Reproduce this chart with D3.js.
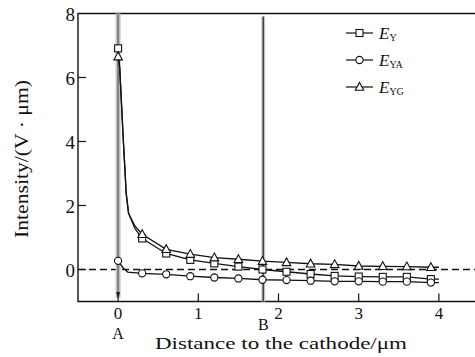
<!DOCTYPE html>
<html>
<head>
<meta charset="utf-8">
<script src="https://cdn.jsdelivr.net/npm/d3@7"></script>
<style>
  body { margin: 0; background: #fff; }
  svg { display: block; font-family: "Liberation Serif", "DejaVu Serif", serif; }
</style>
</head>
<body>
<div id="chart"></div>
<script>
// Data
const distance = [0, 0.3, 0.6, 0.9, 1.2, 1.5, 1.8, 2.1, 2.4, 2.7, 3.0, 3.3, 3.6, 3.9];
const eY  = [6.91, 0.97, 0.5, 0.3, 0.19, 0.09, 0.0, -0.07, -0.14, -0.2, -0.22, -0.23, -0.23, -0.3];
const eYA = [0.27, -0.12, -0.15, -0.21, -0.25, -0.28, -0.32, -0.33, -0.35, -0.37, -0.37, -0.38, -0.38, -0.41];
const eYG = [6.65, 1.1, 0.63, 0.48, 0.37, 0.32, 0.26, 0.22, 0.18, 0.16, 0.11, 0.1, 0.09, 0.07];

// unmarked points on the steep part of the curves, and the line ends
const steepX = [0.02, 0.04, 0.066, 0.09, 0.1, 0.13, 0.21];
const eYSteep  = [6.3, 5.3, 4.0, 2.9, 2.4, 1.76, 1.28];
const eYGSteep = [6.3, 5.3, 4.0, 2.9, 2.4, 1.76, 1.36];
const eYASteepX = [0.066, 0.12];
const eYASteep  = [0.04, -0.08];
const lineEndX = 4.0;
const lineEnd = { eY: -0.3, eYA: -0.41, eYG: 0.07 };

const xTicks = [0, 1, 2, 3, 4];
const yTicks = [0, 2, 4, 6, 8];
const pointA = 0, pointB = 1.81;

const width = 475, height = 357;
const x = d3.scaleLinear().domain([-0.5, 4.5]).range([78, 479]);
const y = d3.scaleLinear().domain([-1, 8]).range([301.5, 13.5]);

const svg = d3.select("#chart").append("svg")
  .attr("width", width)
  .attr("height", height);

// frame: top, left, bottom (right side runs off the picture)
svg.append("path")
  .attr("d", `M${width},${y(8)}H${x(-0.5)}V${y(-1)}H${width}`)
  .attr("stroke", "#111").attr("stroke-width", 1.4).attr("fill", "none");

// ticks point inward
svg.append("g").selectAll("line").data(yTicks.slice(0, 4)).join("line")
  .attr("x1", x(-0.5)).attr("x2", x(-0.5) + 8)
  .attr("y1", d => y(d)).attr("y2", d => y(d))
  .attr("stroke", "#111").attr("stroke-width", 1.2);
svg.append("g").selectAll("line").data(xTicks).join("line")
  .attr("x1", d => x(d)).attr("x2", d => x(d))
  .attr("y1", y(-1)).attr("y2", y(-1) - 8)
  .attr("stroke", "#111").attr("stroke-width", 1.2);

// tick labels
svg.append("g").selectAll("text").data(yTicks).join("text")
  .attr("x", 75).attr("y", d => y(d) + 7)
  .attr("text-anchor", "end").attr("font-size", 19).attr("fill", "#111")
  .text(d => d);
svg.append("g").selectAll("text").data(xTicks).join("text")
  .attr("x", d => x(d)).attr("y", 319)
  .attr("text-anchor", "middle").attr("font-size", 17).attr("fill", "#111")
  .text(d => d);

// zero reference line
svg.append("line")
  .attr("x1", x(-0.5)).attr("x2", width)
  .attr("y1", y(0)).attr("y2", y(0))
  .attr("stroke", "#111").attr("stroke-width", 1.6)
  .attr("stroke-dasharray", "7,4");

// A and B markers
svg.append("line")
  .attr("x1", x(pointA)).attr("x2", x(pointA))
  .attr("y1", y(8)).attr("y2", 298)
  .attr("stroke", "#c4c4c4").attr("stroke-width", 5);
svg.append("line")
  .attr("x1", x(pointA)).attr("x2", x(pointA))
  .attr("y1", y(8)).attr("y2", 298)
  .attr("stroke", "#808080").attr("stroke-width", 2);
svg.append("path")
  .attr("d", `M${x(pointA) - 2},292L${x(pointA) + 2},292L${x(pointA)},299Z`)
  .attr("fill", "#222");
svg.append("line")
  .attr("x1", x(pointB)).attr("x2", x(pointB))
  .attr("y1", y(8) + 3).attr("y2", y(-1))
  .attr("stroke", "#d0d0d0").attr("stroke-width", 4);
svg.append("line")
  .attr("x1", x(pointB)).attr("x2", x(pointB))
  .attr("y1", y(8) + 3).attr("y2", y(-1))
  .attr("stroke", "#444").attr("stroke-width", 1.6);
svg.append("text").attr("x", x(pointA)).attr("y", 339)
  .attr("text-anchor", "middle").attr("font-size", 16).attr("fill", "#111").text("A");
svg.append("text").attr("x", x(pointB)).attr("y", 330)
  .attr("text-anchor", "middle").attr("font-size", 16).attr("fill", "#111").text("B");

// axis titles
svg.append("text")
  .attr("x", 281).attr("y", 349)
  .attr("text-anchor", "middle").attr("font-size", 17).attr("fill", "#111")
  .attr("textLength", 252).attr("lengthAdjust", "spacingAndGlyphs")
  .text("Distance  to  the  cathode/μm");
svg.append("text")
  .attr("transform", "translate(28,159) rotate(-90)")
  .attr("text-anchor", "middle").attr("font-size", 19).attr("fill", "#111")
  .attr("textLength", 158).attr("lengthAdjust", "spacingAndGlyphs")
  .text("Intensity/(V · μm)");

// series
const series = [
  { key: "eY", sub: "Y", values: eY, steepX: steepX, steep: eYSteep, shape: "square" },
  { key: "eYA", sub: "YA", values: eYA, steepX: eYASteepX, steep: eYASteep, shape: "circle" },
  { key: "eYG", sub: "YG", values: eYG, steepX: steepX, steep: eYGSteep, shape: "triangle" },
];

const line = d3.line().x(d => x(d[0])).y(d => y(d[1]));

function marker(g, shape) {
  if (shape === "square") {
    g.append("rect").attr("x", -3.5).attr("y", -3.5).attr("width", 7).attr("height", 7);
  } else if (shape === "circle") {
    g.append("circle").attr("r", 3.6);
  } else {
    g.append("path").attr("d", "M0,-4.6L4.3,3.2L-4.3,3.2Z");
  }
  g.attr("fill", "#fff").attr("stroke", "#111").attr("stroke-width", 1.1);
}

series.forEach(s => {
  const pts = distance.map((d, i) => [d, s.values[i]])
    .concat(s.steepX.map((d, i) => [d, s.steep[i]]))
    .concat([[lineEndX, lineEnd[s.key]]])
    .sort((a, b) => a[0] - b[0]);
  svg.append("path")
    .attr("d", line(pts))
    .attr("fill", "none").attr("stroke", "#111").attr("stroke-width", 1.3);
});

series.forEach(s => {
  svg.append("g").selectAll("g").data(distance).join("g")
    .attr("transform", (d, i) => `translate(${x(d)},${y(s.values[i])})`)
    .each(function () { marker(d3.select(this), s.shape); });
});

// legend
const legend = svg.append("g");
series.forEach((s, i) => {
  const ly = 33 + i * 27;
  legend.append("line")
    .attr("x1", 346).attr("x2", 373).attr("y1", ly).attr("y2", ly)
    .attr("stroke", "#111").attr("stroke-width", 1.2);
  marker(legend.append("g").attr("transform", `translate(359.5,${ly})`), s.shape);
  const t = legend.append("text")
    .attr("x", 379).attr("y", ly + 6).attr("font-size", 17).attr("fill", "#111");
  t.append("tspan").attr("font-style", "italic").text("E");
  t.append("tspan").attr("font-size", 10).attr("dy", 2).text(s.sub);
});
</script>
</body>
</html>
